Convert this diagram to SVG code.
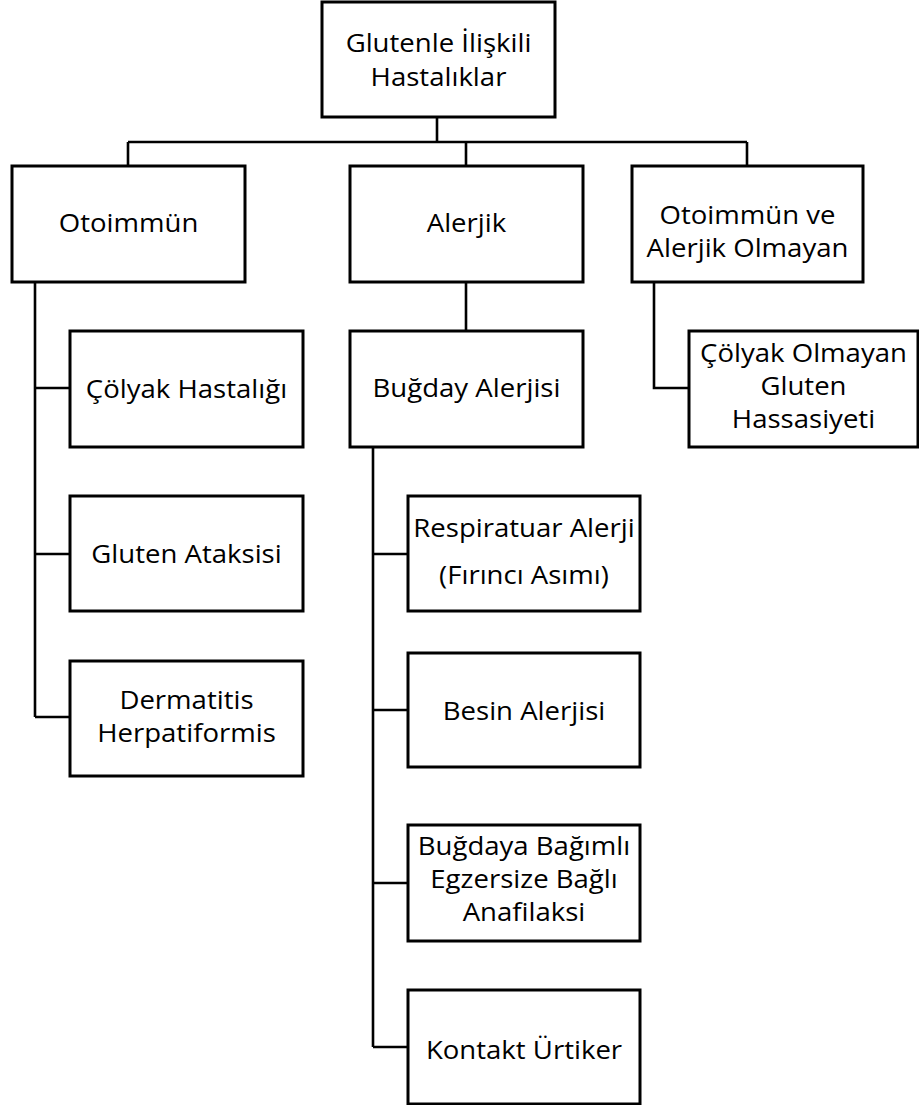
<svg xmlns="http://www.w3.org/2000/svg" width="919" height="1105" viewBox="0 0 919 1105">
<style>
.box{fill:#fff;stroke:#000;stroke-width:3}
.ln{fill:none;stroke:#000;stroke-width:2.6}
text{font-family:"Open Sans","Noto Sans",sans-serif;font-size:26px;fill:#000;text-anchor:middle;transform-box:fill-box;transform-origin:center;transform:scaleX(1.06)}
</style>
<rect width="919" height="1105" fill="#fff"/>
<g id="connectors">
<path class="ln" d="M437 117V142M128 142H747M128 142V166M466 142V166M747 142V166"/>
<path class="ln" d="M35 282V717M35 388H70M35 554H70M35 717H70"/>
<path class="ln" d="M466 282V331"/>
<path class="ln" d="M373 447V1047M373 554H408M373 710H408M373 883H408M373 1047H408"/>
<path class="ln" d="M654 282V388H689"/>
</g>
<g id="root"><rect class="box" x="322" y="2" width="233" height="115"/><text x="438.5" y="52">Glutenle İlişkili</text><text x="438.5" y="86">Hastalıklar</text></g>
<g id="otoimmun"><rect class="box" x="12" y="166" width="233" height="116"/><text x="128.5" y="232">Otoimmün</text></g>
<g id="alerjik"><rect class="box" x="350" y="166" width="233" height="116"/><text x="466.5" y="232">Alerjik</text></g>
<g id="diger"><rect class="box" x="632" y="166" width="231" height="116"/><text x="747.5" y="224">Otoimmün ve</text><text x="747.5" y="257">Alerjik Olmayan</text></g>
<g id="colyak"><rect class="box" x="70" y="331" width="233" height="116"/><text x="186.5" y="398">Çölyak Hastalığı</text></g>
<g id="ataksi"><rect class="box" x="70" y="496" width="233" height="115"/><text x="186.5" y="563">Gluten Ataksisi</text></g>
<g id="dermatitis"><rect class="box" x="70" y="661" width="233" height="115"/><text x="186.5" y="709">Dermatitis</text><text x="186.5" y="742">Herpatiformis</text></g>
<g id="bugday"><rect class="box" x="350" y="331" width="233" height="116"/><text x="466.5" y="397">Buğday Alerjisi</text></g>
<g id="ncgs"><rect class="box" x="689" y="331" width="229" height="116"/><text x="803.5" y="362">Çölyak Olmayan</text><text x="803.5" y="395">Gluten</text><text x="803.5" y="428">Hassasiyeti</text></g>
<g id="respiratuar"><rect class="box" x="408" y="496" width="232" height="115"/><text x="524" y="537">Respiratuar Alerji</text><text x="524" y="584">(Fırıncı Asımı)</text></g>
<g id="besin"><rect class="box" x="408" y="653" width="232" height="114"/><text x="524" y="720">Besin Alerjisi</text></g>
<g id="wdeia"><rect class="box" x="408" y="825" width="232" height="116"/><text x="524" y="855">Buğdaya Bağımlı</text><text x="524" y="888">Egzersize Bağlı</text><text x="524" y="921">Anafilaksi</text></g>
<g id="kontakt"><rect class="box" x="408" y="990" width="232" height="114"/><text x="524" y="1059">Kontakt Ürtiker</text></g>
</svg>
